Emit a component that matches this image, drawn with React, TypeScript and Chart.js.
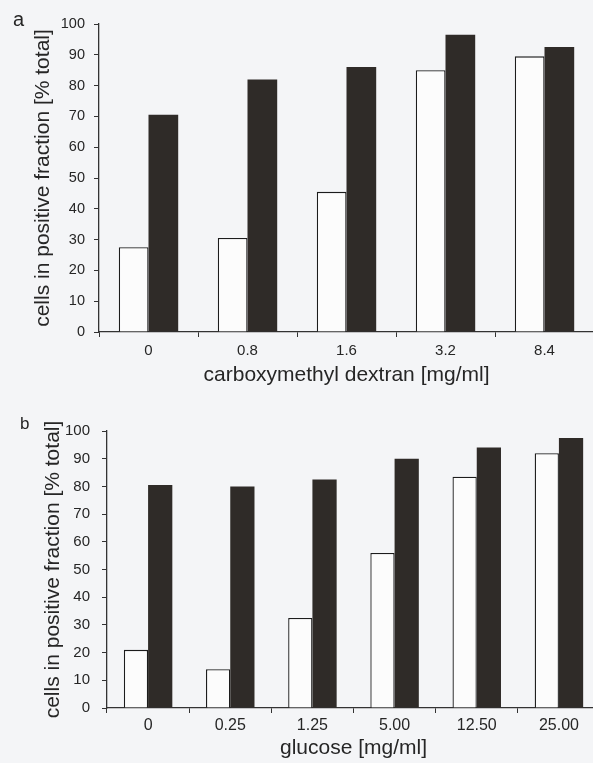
import React, { useEffect, useRef } from 'react';
import { Chart, registerables } from 'chart.js';

Chart.register(...registerables);

// ---- data ----
const dextranLabels = ['0', '0.8', '1.6', '3.2', '8.4'];
const dextranWhite = [27.5, 30.5, 45.5, 85, 89.5];
const dextranDark = [70.5, 82, 86, 96.5, 92.5];

const glucoseLabels = ['0', '0.25', '1.25', '5.00', '12.50', '25.00'];
const glucoseWhite = [21, 14, 32.5, 56, 83.5, 92];
const glucoseDark = [80.5, 80, 82.5, 90, 94, 97.5];

const yTickValues = [0, 10, 20, 30, 40, 50, 60, 70, 80, 90, 100];
const yTitle = 'cells in positive fraction [% total]';
const xTitleA = 'carboxymethyl dextran [mg/ml]';
const xTitleB = 'glucose [mg/ml]';

const FONT = '"Liberation Sans", Arial, Helvetica, sans-serif';
const TEXT = '#262626';
const AXIS = '#333333';
const BG = '#f4f5f7';

type P = {
  labels: string[];
  white: number[];
  dark: number[];
  xTitle: string;
  padTop: number;
  padRight: number;
  yWidth: number;
  xHeight: number;
  yTickPad: number;
  xTickPad: number;
  yTickSize: number;
  xTickSize: number;
  yTitlePad: number;
  titleSize: number;
  catPct: number;
};

function makeConfig(p: P): any {
  return {
    type: 'bar',
    data: {
      labels: p.labels,
      datasets: [
        {
          data: p.white,
          backgroundColor: '#fcfcfc',
          borderColor: '#1c1c1c',
          borderWidth: 1.3,
          borderSkipped: 'bottom',
        },
        {
          data: p.dark,
          backgroundColor: '#2f2b28',
          borderWidth: 0,
        },
      ],
    },
    options: {
      responsive: false,
      animation: false,
      layout: { padding: { top: p.padTop, right: p.padRight, left: 0, bottom: 0 } },
      plugins: { legend: { display: false }, tooltip: { enabled: false } },
      datasets: { bar: { categoryPercentage: p.catPct, barPercentage: 1 } },
      scales: {
        x: {
          offset: true,
          grid: {
            display: true,
            offset: true,
            drawOnChartArea: false,
            drawTicks: true,
            tickLength: 5,
            color: AXIS,
            lineWidth: 1,
          },
          border: { display: true, color: AXIS, width: 1.3 },
          ticks: {
            color: TEXT,
            font: { family: FONT, size: p.xTickSize },
            padding: p.xTickPad,
            maxRotation: 0,
            autoSkip: false,
          },
          title: {
            display: true,
            text: p.xTitle,
            color: TEXT,
            font: { family: FONT, size: p.titleSize },
            padding: { top: 0, bottom: 2 },
          },
          afterFit: (s: any) => {
            s.height = p.xHeight;
          },
        },
        y: {
          min: 0,
          max: 100,
          afterBuildTicks: (s: any) => {
            s.ticks = yTickValues.map((v) => ({ value: v }));
          },
          grid: {
            display: true,
            drawOnChartArea: false,
            drawTicks: true,
            tickLength: 5,
            color: AXIS,
            lineWidth: 1,
          },
          border: { display: true, color: AXIS, width: 1.3 },
          ticks: {
            color: TEXT,
            font: { family: FONT, size: p.yTickSize },
            padding: p.yTickPad,
          },
          title: {
            display: true,
            text: yTitle,
            color: TEXT,
            font: { family: FONT, size: p.titleSize },
            padding: { top: p.yTitlePad, bottom: 0 },
          },
          afterFit: (s: any) => {
            s.width = p.yWidth;
          },
        },
      },
    },
  };
}

function BarPanel(props: { p: P; top: number; height: number }) {
  const ref = useRef<HTMLCanvasElement | null>(null);
  useEffect(() => {
    if (!ref.current) return;
    const chart = new Chart(ref.current, makeConfig(props.p));
    return () => chart.destroy();
  }, []);
  return (
    <canvas
      ref={ref}
      width={600}
      height={props.height}
      style={{ position: 'absolute', left: 0, top: props.top, width: 600, height: props.height, display: 'block' }}
    />
  );
}

const panelA: P = {
  labels: dextranLabels,
  white: dextranWhite,
  dark: dextranDark,
  xTitle: xTitleA,
  padTop: 24,
  padRight: 6,
  yWidth: 99,
  xHeight: 58,
  yTickPad: 9,
  xTickPad: 5,
  yTickSize: 14.5,
  xTickSize: 15,
  yTitlePad: 31,
  titleSize: 21,
  catPct: 0.6,
};

const panelB: P = {
  labels: glucoseLabels,
  white: glucoseWhite,
  dark: glucoseDark,
  xTitle: xTitleB,
  padTop: 31,
  padRight: 0,
  yWidth: 107,
  xHeight: 55,
  yTickPad: 12,
  xTickPad: 2.5,
  yTickSize: 15,
  xTickSize: 16,
  yTitlePad: 41,
  titleSize: 21,
  catPct: 0.59,
};

export default function App() {
  return (
    <div
      style={{
        position: 'absolute',
        left: 0,
        top: 0,
        width: 593,
        height: 763,
        overflow: 'hidden',
        background: BG,
      }}
    >
      <BarPanel p={panelA} top={0} height={390} />
      <BarPanel p={panelB} top={400} height={363} />
      <span
        style={{
          position: 'absolute',
          left: 13,
          top: 9,
          fontFamily: FONT,
          fontSize: 20,
          lineHeight: 1,
          color: TEXT,
        }}
      >
        a
      </span>
      <span
        style={{
          position: 'absolute',
          left: 20,
          top: 415,
          fontFamily: FONT,
          fontSize: 17,
          lineHeight: 1,
          color: TEXT,
        }}
      >
        b
      </span>
    </div>
  );
}
